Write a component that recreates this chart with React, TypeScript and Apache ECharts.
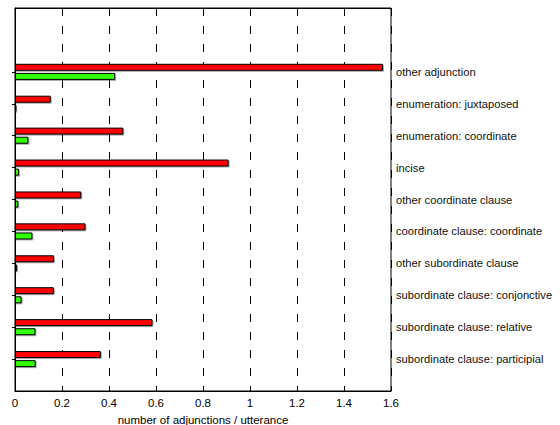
import React, { useEffect, useRef } from "react";
import * as echarts from "echarts";

const categories = [
  "subordinate clause: participial",
  "subordinate clause: relative",
  "subordinate clause: conjonctive",
  "other subordinate clause",
  "coordinate clause: coordinate",
  "other coordinate clause",
  "incise",
  "enumeration: coordinate",
  "enumeration: juxtaposed",
  "other adjunction",
];
const redValues = [0.365, 0.585, 0.165, 0.166, 0.3, 0.282, 0.909, 0.461, 0.152, 1.566];
const greenValues = [0.088, 0.087, 0.028, 0.009, 0.074, 0.014, 0.017, 0.057, 0.006, 0.426];
const xTicks = [0, 0.2, 0.4, 0.6, 0.8, 1, 1.2, 1.4, 1.6];
const axisTitle = "number of adjunctions / utterance";

const FONT = "'Liberation Sans', Arial, Helvetica, sans-serif";

export default function App() {
  const ref = useRef<HTMLDivElement>(null);
  useEffect(() => {
    if (!ref.current) return;
    const chart = echarts.init(ref.current, undefined, { renderer: "svg" });
    // pad: one empty slot below, two above
    const slots = ["", ...categories, "", ""];
    const pad = (arr: number[]) => [null, ...arr, null, null];
    const isCat = (i: number) => i >= 1 && i <= categories.length;
    const barStyle = (color: string) => ({
      color,
      borderColor: "#000",
      borderWidth: 1,
      shadowColor: "rgba(0,0,0,0.35)",
      shadowOffsetX: 1,
      shadowOffsetY: 1,
      shadowBlur: 0,
    });
    chart.setOption({
      animation: false,
      backgroundColor: "#fff",
      grid: {
        left: 15,
        right: 169,
        top: 8,
        bottom: 34,
        outerBoundsMode: "none",
        containLabel: false,
        show: true,
        borderColor: "#000",
        borderWidth: 1,
        backgroundColor: "transparent",
      },
      xAxis: [
        {
          type: "value",
          min: xTicks[0],
          max: xTicks[xTicks.length - 1],
          interval: 0.2,
          position: "bottom",
          axisLine: { show: true, lineStyle: { color: "#000", width: 1 } },
          axisTick: { show: true, inside: true, length: 4, lineStyle: { color: "#000" } },
          axisLabel: {
            color: "#000",
            fontSize: 11.5,
            fontFamily: FONT,
            margin: 6,
            formatter: (v: number) => String(Math.round(v * 10) / 10),
          },
          splitLine: { show: true, lineStyle: { color: "#000", type: [8, 10], width: 1 } },
          name: axisTitle,
          nameLocation: "middle",
          nameGap: 21,
          nameTextStyle: { color: "#000", fontSize: 11.5, fontFamily: FONT, verticalAlign: "top" },
        },
        {
          type: "value",
          min: xTicks[0],
          max: xTicks[xTicks.length - 1],
          interval: 0.2,
          position: "top",
          axisLine: { show: true, lineStyle: { color: "#000", width: 1 } },
          axisTick: { show: true, inside: true, length: 4, lineStyle: { color: "#000" } },
          axisLabel: { show: false },
          splitLine: { show: false },
        },
      ],
      yAxis: {
        type: "category",
        data: slots,
        position: "right",
        boundaryGap: false,
        axisLine: { show: true, lineStyle: { color: "#000", width: 1 } },
        axisTick: {
          show: true,
          inside: true,
          length: 3,
          interval: (i: number) => isCat(i),
          lineStyle: { color: "#000" },
        },
        axisLabel: {
          color: "#111",
          fontSize: 11.2,
          fontFamily: FONT,
          margin: 5,
          interval: (i: number) => isCat(i),
        },
        splitLine: { show: false },
      },
      series: [
        {
          type: "bar",
          name: "red",
          data: pad(redValues),
          barWidth: 7,
          barGap: "30%",
          itemStyle: barStyle("#ff0000"),
        },
        {
          type: "bar",
          name: "green",
          data: pad(greenValues),
          barWidth: 7,
          barGap: "30%",
          itemStyle: barStyle("#33ff00"),
        },
      ],
    });
    return () => chart.dispose();
  }, []);
  return (
    <div
      ref={ref}
      style={{ position: "fixed", left: 0, top: 0, width: 560, height: 425, background: "#fff" }}
    />
  );
}
